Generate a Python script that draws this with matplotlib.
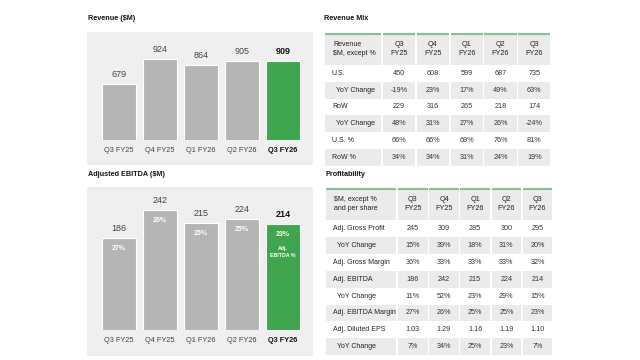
import matplotlib.pyplot as plt
from matplotlib.patches import Rectangle

plt.rcParams['font.family'] = ['Liberation Sans', 'DejaVu Sans']

W, H = 640, 360

# ---- data ----
quarters = ['Q3 FY25', 'Q4 FY25', 'Q1 FY26', 'Q2 FY26', 'Q3 FY26']
revenue = [679, 924, 864, 905, 909]
ebitda = [186, 242, 215, 224, 214]
ebitda_margin = ['27%', '26%', '25%', '25%', '23%']

col_headers = ['Q3\nFY25', 'Q4\nFY25', 'Q1\nFY26', 'Q2\nFY26', 'Q3\nFY26']

mix_header = 'Revenue\n$M, except %'
mix_rows = ['U.S.', 'YoY Change', 'RoW', 'YoY Change', 'U.S. %', 'RoW %']
mix_values = [
    ['450', '608', '599', '687', '735'],
    ['-19%', '23%', '17%', '49%', '63%'],
    ['229', '316', '265', '218', '174'],
    ['48%', '31%', '27%', '26%', '-24%'],
    ['66%', '66%', '69%', '76%', '81%'],
    ['34%', '34%', '31%', '24%', '19%'],
]

prof_header = '$M, except %\nand per share'
prof_rows = ['Adj. Gross Profit', 'YoY Change', 'Adj. Gross Margin', 'Adj. EBITDA',
             'YoY Change', 'Adj. EBITDA Margin', 'Adj. Diluted EPS', 'YoY Change']
prof_values = [
    ['245', '309', '285', '300', '295'],
    ['15%', '39%', '18%', '31%', '20%'],
    ['36%', '33%', '33%', '33%', '32%'],
    ['186', '242', '215', '224', '214'],
    ['11%', '52%', '23%', '29%', '15%'],
    ['27%', '26%', '25%', '25%', '23%'],
    ['1.03', '1.29', '1.16', '1.19', '1.10'],
    ['7%', '34%', '25%', '23%', '7%'],
]

# ---- styles ----
PANEL = '#efefef'
BAR_GRAY = '#b5b5b5'
GREEN = '#3fa64f'
ROW_GRAY = '#ebebeb'
LINE_GREEN = '#8cbc95'
TXT = '#222222'

fig = plt.figure(figsize=(6.4, 3.6), dpi=100)


def px_axes(x0, y0, x1, y1, **kw):
    """axes placed by pixel box (top-left origin)"""
    return fig.add_axes([x0 / W, 1 - y1 / H, (x1 - x0) / W, (y1 - y0) / H], **kw)


# overlay axes in pixel units for titles, panels and tables
ov = px_axes(0, 0, W, H)
ov.set_xlim(0, W)
ov.set_ylim(H, 0)
ov.axis('off')

for x, y, t in [(88, 19, 'Revenue ($M)'), (88, 175, 'Adjusted EBITDA ($M)'),
                (324, 19, 'Revenue Mix'), (326, 175, 'Profitability')]:
    ov.text(x, y, t, fontsize=5.2, fontweight='bold', color='#111', va='center', ha='left')

ov.add_patch(Rectangle((87, 32), 226, 133, color=PANEL, lw=0, zorder=0))
ov.add_patch(Rectangle((87, 187), 226, 169, color=PANEL, lw=0, zorder=0))


def bar_panel(box, values, lo, hi):
    ax = px_axes(*box)
    ax.patch.set_alpha(0)
    colors = [BAR_GRAY] * (len(values) - 1) + [GREEN]
    bars = ax.bar(range(len(values)), values, width=0.84, color=colors,
                  edgecolor='white', linewidth=0.8)
    ax.set_xlim(-0.78, len(values) - 1 + 0.73)
    ax.set_ylim(lo, hi)
    for s in ax.spines.values():
        s.set_visible(False)
    ax.set_yticks([])
    ax.set_xticks(range(len(values)), quarters)
    ax.tick_params(axis='x', length=0, pad=5, labelsize=5.3, labelcolor='#444')
    ax.get_xticklabels()[-1].set_fontweight('bold')
    ax.get_xticklabels()[-1].set_color('#111')
    labels = ax.bar_label(bars, padding=3.5, fontsize=6.5, color='#444')
    labels[-1].set_fontweight('bold')
    labels[-1].set_color('#111')
    return ax


bar_panel((87, 32, 313, 140), revenue, 130, 130 + 108 / 0.102)
ax_e = bar_panel((87, 187, 313, 330), ebitda, 0, 143 / 0.496)

for i, (v, m) in enumerate(zip(ebitda, ebitda_margin)):
    ax_e.annotate(m, (i, v), xytext=(0, -7.5), textcoords='offset points',
                  ha='center', va='center', fontsize=5, fontweight='bold', color='white')
ax_e.annotate('Adj.\nEBITDA %', (len(ebitda) - 1, ebitda[-1]), xytext=(0, -16),
              textcoords='offset points', ha='center', va='top', fontsize=3.8,
              fontweight='bold', color='white', linespacing=1.5)


def draw_table(x0, y0, widths, header_h, row_h, header, rows, values):
    gap = 1.6
    edges = [x0]
    for w in widths:
        edges.append(edges[-1] + w)
    # header
    for c in range(len(widths)):
        cx0, cx1 = edges[c], edges[c + 1] - gap
        ov.add_patch(Rectangle((cx0, y0), cx1 - cx0, header_h, color=ROW_GRAY, lw=0))
        ov.plot([cx0, cx1], [y0 + 0.7, y0 + 0.7], color=LINE_GREEN, lw=1.5,
                solid_capstyle='butt')
        if c == 0:
            ov.text(cx0 + 8, y0 + header_h / 2, header, fontsize=5, color=TXT,
                    ha='left', va='center', linespacing=1.5)
        else:
            ov.text((cx0 + cx1) / 2, y0 + header_h / 2, col_headers[c - 1], fontsize=5.2,
                    color=TXT, ha='center', va='center', linespacing=1.5)
    # body
    for r, (label, vals) in enumerate(zip(rows, values)):
        ry = y0 + header_h + r * row_h
        cy = ry + row_h / 2
        if r % 2 == 1:
            for c in range(len(widths)):
                ov.add_patch(Rectangle((edges[c], ry), edges[c + 1] - gap - edges[c],
                                       row_h, color=ROW_GRAY, lw=0))
        indent = 11 if label.startswith('YoY') else 7
        ov.text(x0 + indent, cy, label, fontsize=5, color=TXT, ha='left', va='center')
        for c, v in enumerate(vals):
            ov.text((edges[c + 1] + edges[c + 2] - gap) / 2, cy, v, fontsize=5.2,
                    color='#333', ha='center', va='center')


draw_table(325, 33, [58] + [33.8] * 5, 32, 16.8, mix_header, mix_rows, mix_values)
draw_table(326, 188, [72] + [31.2] * 5, 32, 16.9, prof_header, prof_rows, prof_values)

fig.savefig('out.png', dpi=100, facecolor='white')
